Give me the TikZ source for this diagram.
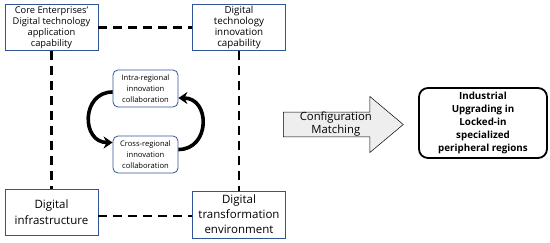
\documentclass[tikz,border=0pt]{standalone}
\usepackage{fontspec}
\setmainfont{Open Sans}
\usepackage{xcolor}
\usepackage{tikz}
\usetikzlibrary{arrows.meta,positioning,shapes.arrows}
\definecolor{boxblue}{RGB}{47,85,151}
\definecolor{matchgray}{RGB}{238,238,238}

\begin{document}
\begin{tikzpicture}[x=1pt,y=-1pt,>=Stealth,
    box/.style={draw=boxblue, line width=0.8pt, fill=white, align=center, inner sep=0pt, minimum width=93pt, minimum height=46pt},
    collab/.style={draw=boxblue, line width=0.8pt, rounded corners=5pt, align=center, inner sep=0pt, minimum width=65pt, minimum height=37pt, font=\fontsize{7.6}{10.8}\selectfont},
    link/.style={line width=2.4pt, dash pattern=on 9pt off 6pt},
    swing/.style={line width=3.6pt, -{Stealth[length=9pt,width=12pt]}}]
        \useasboundingbox (0,0) rectangle (550,242);

        \node (dtac) [box, font=\fontsize{9.3}{11}\selectfont] at (51.5,27.5) {Core Enterprises’\\Digital technology\\application\\capability};
        \node (dtic) [box, font=\fontsize{9.8}{11}\selectfont] at (239,27.5) {Digital\\technology\\innovation\\capability};
        \node (infra) [box, font=\fontsize{11.5}{16}\selectfont] at (51.5,212) {Digital\\infrastructure};
        \node (env) [box, minimum height=47pt, font=\fontsize{11.5}{15}\selectfont] at (239,214.5) {Digital\\transformation\\environment};

        \node (intra) [collab] at (145.5,88.5) {Intra-regional\\innovation\\collaboration};
        \node (cross) [collab] at (145.5,154.5) {Cross-regional\\innovation\\collaboration};

        \draw[link] (dtac) -- (dtic);
        \draw[link] (dtac) -- (infra);
        \draw[link] (dtic) -- (env);
        \draw[link] ([yshift=-4pt]infra.east) -- ([yshift=-4pt]infra.east -| env.west);

        \draw[swing] ([yshift=-3.5pt]intra.west) to[out=180, in=180, looseness=1.6] ([yshift=12pt]cross.west);
        \draw[swing] ([yshift=5pt]cross.east) to[out=0, in=0, looseness=1.6] ([yshift=-9.5pt]intra.east);

        \node (match) [single arrow, draw, line width=0.5pt, fill=matchgray, anchor=tail, minimum height=120pt, minimum width=56pt, single arrow head extend=15.5pt, single arrow tip angle=80, inner sep=0pt, align=center, font=\fontsize{11.3}{13}\selectfont] at (283,124.5) {Configuration\\Matching};

        \node (upgrade) [draw, line width=1.8pt, rounded corners=9pt, minimum width=128pt, minimum height=70pt, inner sep=0pt, align=center, font=\bfseries\fontsize{9.8}{12.8}\selectfont] at (483,123) {Industrial\\Upgrading in\\Locked-in\\specialized\\peripheral regions};
      \end{tikzpicture}
\end{document}
